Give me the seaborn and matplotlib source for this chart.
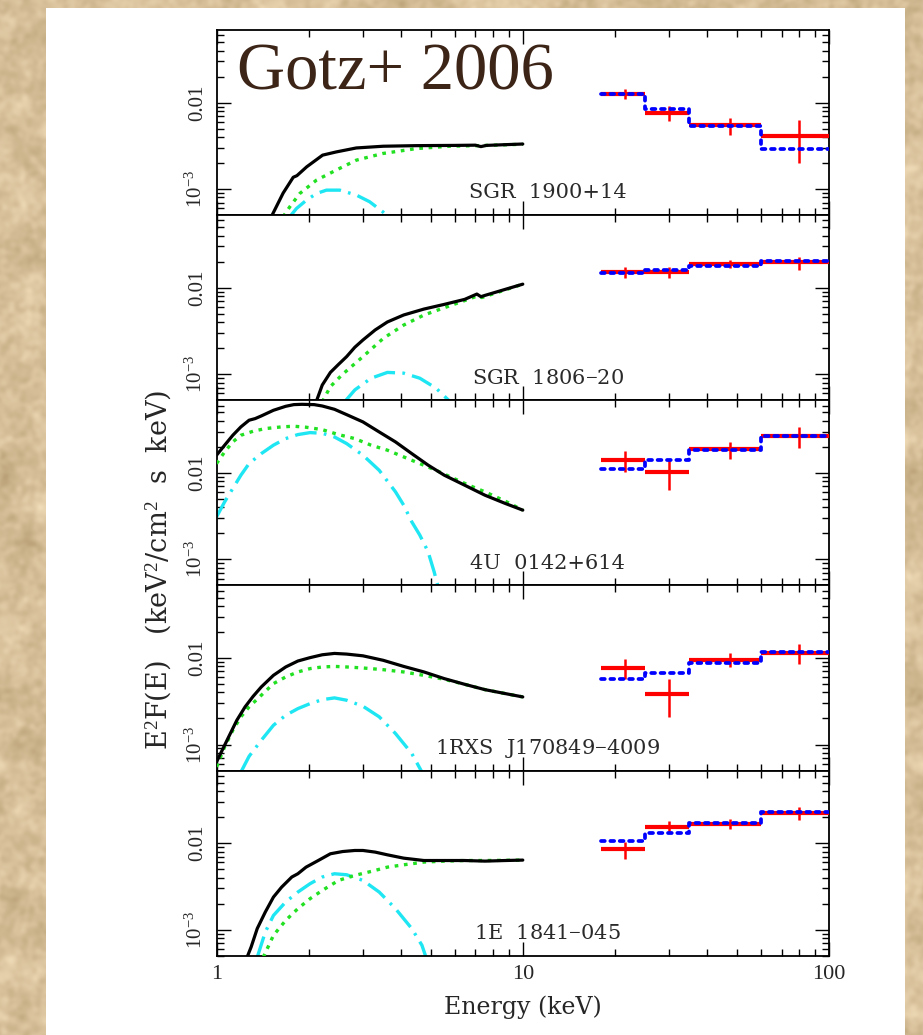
import numpy as np
import pandas as pd
import matplotlib
matplotlib.use("Agg")
import matplotlib.pyplot as plt
from matplotlib.patches import Rectangle
from matplotlib.ticker import LogLocator, NullFormatter
import seaborn as sns

# ---------------------------------------------------------------------------
# Broad-band E^2 F(E) spectra of five magnetars: soft X-ray model components
# (total, power law, blackbody) and hard X-ray points with the model steps.
# ---------------------------------------------------------------------------
SOURCES = ["SGR  1900+14", "SGR  1806$-$20", "4U  0142+614",
           "1RXS  J170849$-$4009", "1E  1841$-$045"]

# hard X-ray energy bins (keV)
BIN_EDGES = [18.0, 25.0, 35.0, 60.0, 100.0]
BIN_CENTERS = [21.5, 30.0, 47.5, 80.0]

# --- SGR 1900+14 ---
SGR1900_TOT_E = [1.51, 1.65, 1.78, 1.83, 1.97, 2.22, 2.46, 2.86, 3.5, 4.5, 6.0, 7.0, 7.3, 7.6, 8.5, 10.0]
SGR1900_TOT = [4.8e-4, 9.0e-4, 1.37e-3, 1.43e-3, 1.81e-3, 2.47e-3, 2.69e-3, 2.99e-3, 3.13e-3, 3.18e-3,
               3.2e-3, 3.22e-3, 3.1e-3, 3.2e-3, 3.25e-3, 3.32e-3]
SGR1900_PL_E = [1.65, 1.735, 1.87, 2.12, 2.46, 2.86, 3.49, 4.49, 5.76, 7.4, 10.0]
SGR1900_PL = [4.8e-4, 6.25e-4, 8.9e-4, 1.27e-3, 1.66e-3, 2.16e-3, 2.58e-3, 2.94e-3, 3.13e-3, 3.19e-3, 3.3e-3]
SGR1900_BB_E = [1.735, 1.825, 1.967, 2.12, 2.285, 2.525, 2.862, 3.16, 3.49, 3.63]
SGR1900_BB = [4.8e-4, 5.98e-4, 7.46e-4, 8.9e-4, 9.73e-4, 9.73e-4, 8.53e-4, 7.15e-4, 5.47e-4, 4.8e-4]
SGR1900_FLUX = [0.0127, 0.0076, 0.0055, 0.0041]
SGR1900_LO = [0.0111, 0.0061, 0.0042, 0.0020]
SGR1900_HI = [0.0145, 0.0091, 0.0067, 0.0063]
SGR1900_MODEL = [0.0125, 0.0085, 0.0054, 0.0029]

# --- SGR 1806-20 ---
SGR1806_TOT_E = [2.115, 2.214, 2.354, 2.502, 2.66, 2.828, 3.007, 3.296, 3.613, 4.083, 4.757, 5.541,
                 6.457, 7.08, 7.30, 7.52, 10.0]
SGR1806_TOT = [4.8e-4, 7.5e-4, 1.05e-3, 1.30e-3, 1.6e-3, 2.05e-3, 2.49e-3, 3.25e-3, 4.02e-3, 4.84e-3,
               5.67e-3, 6.42e-3, 7.33e-3, 8.45e-3, 7.88e-3, 8.15e-3, 0.0110]
SGR1806_PL_E = [2.214, 2.354, 2.58, 3.007, 3.504, 4.083, 4.757, 5.541, 6.457, 7.08, 7.35, 10.0]
SGR1806_PL = [4.8e-4, 7.2e-4, 1.0e-3, 1.6e-3, 2.6e-3, 3.7e-3, 4.84e-3, 5.87e-3, 7.1e-3, 8.0e-3, 7.7e-3, 0.0110]
SGR1806_BB_E = [2.62, 2.83, 3.196, 3.613, 4.083, 4.61, 5.21, 5.71, 5.8]
SGR1806_BB = [4.8e-4, 6.6e-4, 9.0e-4, 1.05e-3, 1.03e-3, 9.0e-4, 6.9e-4, 5.05e-4, 4.8e-4]
SGR1806_FLUX = [0.0153, 0.0150, 0.0187, 0.0196]
SGR1806_LO = [0.0128, 0.0128, 0.0167, 0.0162]
SGR1806_HI = [0.0175, 0.0172, 0.0209, 0.0228]
SGR1806_MODEL = [0.0149, 0.0160, 0.0180, 0.0203]

# --- 4U 0142+614 ---
U0142_TOT_E = [1.0, 1.063, 1.130, 1.201, 1.277, 1.337, 1.400, 1.534, 1.682, 1.788, 1.900, 2.083, 2.214,
               2.427, 2.66, 3.007, 3.398, 3.840, 4.340, 4.905, 5.541, 6.457, 7.523, 8.768, 10.0]
U0142_TOT = [0.016, 0.0209, 0.0272, 0.0340, 0.0406, 0.0424, 0.0455, 0.0529, 0.0588, 0.0615, 0.0620,
             0.0615, 0.0593, 0.0543, 0.0471, 0.0388, 0.0297, 0.0228, 0.0167, 0.0123, 0.0094, 0.00721,
             0.00552, 0.00443, 0.00371]
U0142_PL_E = [1.0, 1.063, 1.130, 1.201, 1.317, 1.443, 1.631, 1.788, 1.96, 2.214, 2.502, 2.828, 3.196,
              3.613, 4.083, 4.61, 5.21, 5.893, 6.66, 7.523, 8.768, 10.0]
U0142_PL = [0.0128, 0.0175, 0.0228, 0.0272, 0.0303, 0.0325, 0.0340, 0.0346, 0.0337, 0.0316, 0.0277,
            0.0249, 0.0209, 0.0183, 0.0153, 0.0128, 0.0107, 0.00876, 0.00721, 0.00604, 0.00471, 0.00371]
U0142_BB_E = [1.0, 1.063, 1.130, 1.201, 1.277, 1.400, 1.534, 1.682, 1.843, 2.020, 2.214, 2.427, 2.66,
              3.007, 3.398, 3.840, 4.083, 4.340, 4.610, 4.905, 5.134, 5.293]
U0142_BB = [0.0031, 0.00463, 0.0066, 0.0094, 0.0128, 0.0167, 0.0209, 0.0249, 0.0277, 0.0292, 0.0287,
            0.0260, 0.0218, 0.0160, 0.0107, 0.00604, 0.00424, 0.00272, 0.00191, 0.00123, 7.2e-4, 4.8e-4]
U0142_FLUX = [0.0140, 0.0101, 0.0187, 0.0267]
U0142_LO = [0.0103, 0.0063, 0.0146, 0.0195]
U0142_HI = [0.0178, 0.0140, 0.0228, 0.0340]
U0142_MODEL = [0.0110, 0.0140, 0.0186, 0.0265]

# --- 1RXS J170849-4009 ---
RXS1708_TOT_E = [1.0, 1.031, 1.096, 1.165, 1.239, 1.317, 1.400, 1.534, 1.682, 1.843, 2.020, 2.214, 2.427,
                 2.66, 3.007, 3.504, 4.083, 4.757, 5.541, 6.457, 7.523, 8.768, 10.0]
RXS1708_TOT = [6.3e-4, 7.88e-4, 1.23e-3, 1.91e-3, 2.72e-3, 3.61e-3, 4.63e-3, 6.31e-3, 7.88e-3, 9.23e-3,
               0.0101, 0.0109, 0.0113, 0.0111, 0.0106, 0.0094, 0.0080, 0.0069, 0.00578, 0.00497,
               0.00431, 0.00388, 0.00355]
RXS1708_PL_E = [1.0, 1.063, 1.130, 1.201, 1.277, 1.400, 1.534, 1.682, 1.843, 2.020, 2.214, 2.427, 2.66,
                3.007, 3.504, 4.083, 4.757, 5.541, 6.457, 7.523, 8.768, 10.0]
RXS1708_PL = [5.52e-4, 9.4e-4, 1.46e-3, 2.09e-3, 2.72e-3, 3.71e-3, 5.06e-3, 6.04e-3, 6.9e-3, 7.54e-3,
              7.88e-3, 8.0e-3, 7.88e-3, 7.67e-3, 7.33e-3, 6.9e-3, 6.3e-3, 5.67e-3, 4.97e-3, 4.31e-3,
              3.88e-3, 3.55e-3]
RXS1708_BB_E = [1.201, 1.277, 1.400, 1.534, 1.682, 1.843, 2.020, 2.214, 2.427, 2.66, 3.007, 3.398,
                3.84, 4.34, 4.685]
RXS1708_BB = [4.8e-4, 7.3e-4, 1.12e-3, 1.67e-3, 2.18e-3, 2.6e-3, 2.97e-3, 3.3e-3, 3.46e-3, 3.25e-3,
              2.77e-3, 2.09e-3, 1.34e-3, 7.88e-4, 4.8e-4]
RXS1708_FLUX = [0.00773, 0.00381, 0.00957, 0.0115]
RXS1708_LO = [0.00578, 0.00209, 0.00788, 0.00845]
RXS1708_HI = [0.0098, 0.00567, 0.0114, 0.0146]
RXS1708_MODEL = [0.00567, 0.00678, 0.00876, 0.0117]

# --- 1E 1841-045 ---
E1841_TOT_E = [1.258, 1.297, 1.358, 1.443, 1.534, 1.631, 1.761, 1.843, 1.96, 2.148, 2.354, 2.58, 2.828,
               3.007, 3.296, 3.613, 4.083, 4.757, 5.541, 6.457, 7.523, 8.768, 10.0]
E1841_TOT = [4.8e-4, 6.3e-4, 1.03e-3, 1.6e-3, 2.38e-3, 3.1e-3, 4.06e-3, 4.43e-3, 5.28e-3, 6.3e-3,
             7.54e-3, 8.0e-3, 8.23e-3, 8.23e-3, 7.88e-3, 7.33e-3, 6.71e-3, 6.3e-3, 6.3e-3, 6.3e-3,
             6.2e-3, 6.3e-3, 6.37e-3]
E1841_PL_E = [1.421, 1.534, 1.682, 1.843, 2.02, 2.214, 2.502, 2.828, 3.196, 3.613, 4.083, 4.757, 5.541,
              6.457, 7.523, 10.0]
E1841_PL = [4.8e-4, 8.6e-4, 1.28e-3, 1.75e-3, 2.28e-3, 2.84e-3, 3.71e-3, 4.24e-3, 4.71e-3, 5.28e-3,
            5.62e-3, 6.04e-3, 6.2e-3, 6.3e-3, 6.3e-3, 6.37e-3]
E1841_BB_E = [1.358, 1.443, 1.534, 1.682, 1.843, 2.02, 2.214, 2.427, 2.66, 3.007, 3.398, 3.84, 4.34,
              4.685, 4.83]
E1841_BB = [4.8e-4, 9.4e-4, 1.46e-3, 2.09e-3, 2.72e-3, 3.4e-3, 4.06e-3, 4.43e-3, 4.31e-3, 3.71e-3,
            2.72e-3, 1.75e-3, 1.03e-3, 6.6e-4, 4.8e-4]
E1841_FLUX = [0.0086, 0.0153, 0.0167, 0.0224]
E1841_LO = [0.0066, 0.0134, 0.0146, 0.0187]
E1841_HI = [0.0104, 0.0178, 0.0191, 0.0260]
E1841_MODEL = [0.0107, 0.0130, 0.0170, 0.0232]

PANELS = [
    (SGR1900_TOT_E, SGR1900_TOT, SGR1900_PL_E, SGR1900_PL, SGR1900_BB_E, SGR1900_BB,
     SGR1900_FLUX, SGR1900_LO, SGR1900_HI, SGR1900_MODEL),
    (SGR1806_TOT_E, SGR1806_TOT, SGR1806_PL_E, SGR1806_PL, SGR1806_BB_E, SGR1806_BB,
     SGR1806_FLUX, SGR1806_LO, SGR1806_HI, SGR1806_MODEL),
    (U0142_TOT_E, U0142_TOT, U0142_PL_E, U0142_PL, U0142_BB_E, U0142_BB,
     U0142_FLUX, U0142_LO, U0142_HI, U0142_MODEL),
    (RXS1708_TOT_E, RXS1708_TOT, RXS1708_PL_E, RXS1708_PL, RXS1708_BB_E, RXS1708_BB,
     RXS1708_FLUX, RXS1708_LO, RXS1708_HI, RXS1708_MODEL),
    (E1841_TOT_E, E1841_TOT, E1841_PL_E, E1841_PL, E1841_BB_E, E1841_BB,
     E1841_FLUX, E1841_LO, E1841_HI, E1841_MODEL),
]

X_LIM = (1.0, 100.0)
Y_LIM = (5.0e-4, 0.069)

# ---------------------------------------------------------------------------
sns.set_theme(style="ticks")
plt.rcParams["font.family"] = ["Liberation Serif", "DejaVu Serif"]
plt.rcParams["mathtext.fontset"] = "custom"
plt.rcParams["mathtext.rm"] = "Liberation Serif"
plt.rcParams["mathtext.it"] = "Liberation Serif:italic"
plt.rcParams["axes.linewidth"] = 1.3

W, H = 923, 1035
fig, axes = plt.subplots(5, 1, figsize=(W / 100, H / 100), dpi=100, sharex=True)
fig.subplots_adjust(left=0.2346, right=0.8982, top=0.9710, bottom=0.0766, hspace=0)

# parchment backdrop and white card
rng = np.random.default_rng(11)


def smooth_noise(sigma):
    n = rng.standard_normal((H, W))
    fy = np.fft.fftfreq(H)[:, None]
    fx = np.fft.fftfreq(W)[None, :]
    g = np.exp(-2.0 * (np.pi * sigma) ** 2 * (fx ** 2 + fy ** 2))
    s = np.real(np.fft.ifft2(np.fft.fft2(n) * g))
    return s / s.std()


tex = 0.45 * smooth_noise(2.5) + 0.55 * smooth_noise(10.0)
base = np.array([0.84, 0.75, 0.60])
paper = np.clip(base + 0.04 * tex[..., None] * np.array([1.0, 1.08, 1.2]), 0, 1)
bg = fig.add_axes([0, 0, 1, 1], zorder=-10)
bg.imshow(paper, aspect="auto", interpolation="bilinear")
bg.axis("off")
fig.add_artist(Rectangle((46 / W, -0.01), (905 - 46) / W, 1.01 - 8 / H,
                         transform=fig.transFigure, facecolor="white",
                         edgecolor="none", zorder=-5))

TOT_C, PL_C, BB_C = "black", "#22e022", "#1ee6f2"

for i, (ax, name, pan) in enumerate(zip(axes, SOURCES, PANELS)):
    te, tf, pe, pf, be, bf, flux, lo, hi, model = pan
    ax.set_facecolor("white")
    ax.set_xscale("log")
    ax.set_yscale("log")

    sns.lineplot(x=be, y=bf, ax=ax, color=BB_C, lw=2.4, ls=(0, (6.5, 2.2, 0.8, 2.2)),
                 sort=False, estimator=None, zorder=2)
    sns.lineplot(x=pe, y=pf, ax=ax, color=PL_C, lw=2.4, ls=(0, (1.1, 1.7)),
                 sort=False, estimator=None, zorder=3)
    sns.lineplot(x=te, y=tf, ax=ax, color=TOT_C, lw=2.3,
                 sort=False, estimator=None, zorder=4)

    c = np.array(BIN_CENTERS)
    f = np.array(flux)
    ax.errorbar(c, f, xerr=[c - np.array(BIN_EDGES[:-1]), np.array(BIN_EDGES[1:]) - c],
                fmt="none", ecolor="red", elinewidth=3.0, capsize=0, zorder=5)
    ax.errorbar(c, f, yerr=[f - np.array(lo), np.array(hi) - f],
                fmt="none", ecolor="red", elinewidth=1.8, capsize=0, zorder=5)
    ax.plot(BIN_EDGES, list(model) + [model[-1]], drawstyle="steps-post", color="blue",
            lw=2.7, ls=(0, (1.0, 1.5)), dash_capstyle="round", zorder=6)

    ax.set_xlim(*X_LIM)
    ax.set_ylim(*Y_LIM)
    ax.set_xlabel("")
    ax.set_ylabel("")

    ax.set_yticks([1e-3, 1e-2])
    ax.set_yticklabels(["$10^{-3}$", "0.01"], rotation=90, va="center", fontsize=15)
    ax.yaxis.set_minor_locator(LogLocator(base=10, subs=np.arange(2, 10), numticks=20))
    ax.yaxis.set_minor_formatter(NullFormatter())
    ax.set_xticks([1, 10, 100])
    ax.set_xticklabels(["1", "10", "100"], fontsize=16)
    ax.xaxis.set_minor_locator(LogLocator(base=10, subs=np.arange(2, 10), numticks=20))
    ax.xaxis.set_minor_formatter(NullFormatter())
    ax.tick_params(which="both", direction="in", top=True, right=True, color="black",
                   labelbottom=(i == 4), pad=7)
    ax.tick_params(which="major", length=10, width=1.0)
    ax.tick_params(which="minor", length=5, width=1.0)
    for s in ax.spines.values():
        s.set_color("black")
        s.set_linewidth(1.3)

    ax.text(0.541, 0.12, name, transform=ax.transAxes, ha="center", va="center",
            fontsize=15, family=["DejaVu Serif"], color="#2a2a2a")

axes[-1].set_xlabel("Energy (keV)", fontsize=17, family=["DejaVu Serif"], labelpad=8)
fig.text(158 / W, 1 - 570 / H, "E$^2$F(E)   (keV$^2$/cm$^2$  s  keV)", rotation=90,
         ha="center", va="center", fontsize=19.5, family=["DejaVu Serif"])

fig.text(237 / W, 1 - 89 / H, "Gotz+ 2006", fontsize=48, color="#3c2417",
         family=["Liberation Serif"], va="baseline", ha="left", zorder=10)

fig.savefig("out.png", dpi=100)
